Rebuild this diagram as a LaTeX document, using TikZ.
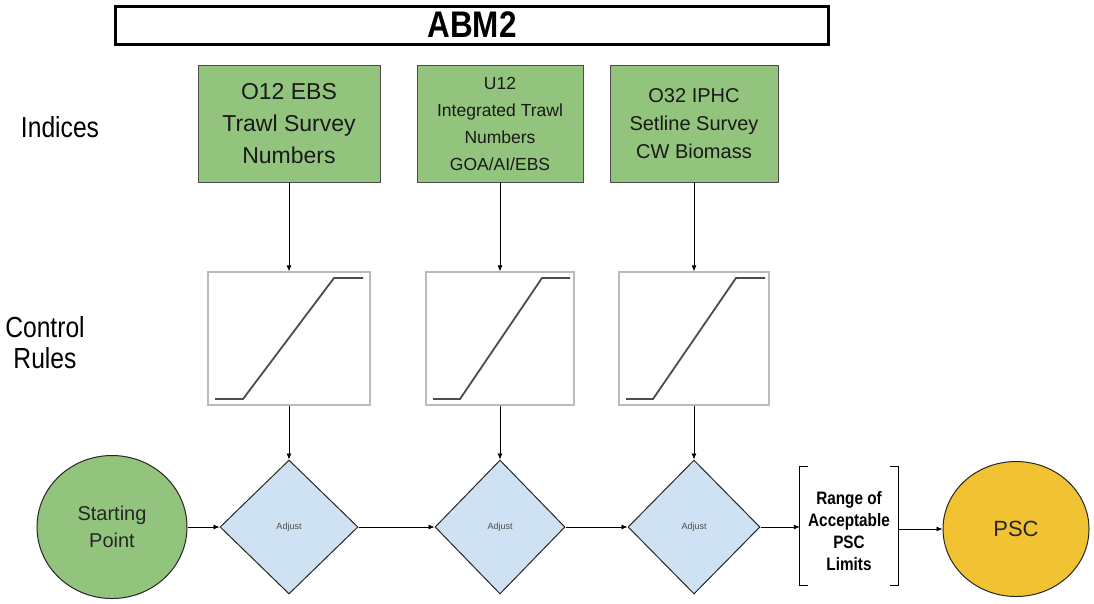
\documentclass[tikz,border=0pt]{standalone}
\usepackage{fontspec}
\setmainfont{Liberation Sans}
\newfontfamily\narrowfont[FakeStretch=0.85]{Liberation Sans}
\usetikzlibrary{arrows.meta,shapes.geometric}
\definecolor{boxgreen}{HTML}{93C47D}
\definecolor{adjblue}{HTML}{CFE2F3}
\definecolor{pscyellow}{HTML}{F1C232}
\definecolor{rulegray}{HTML}{BBBBBB}
\tikzset{
  idxbox/.style={draw=black!70, line width=0.8pt, fill=boxgreen, minimum height=117pt, align=center, inner sep=2pt, text=black!90},
  rulebox/.style={draw=rulegray, line width=1.2pt, minimum height=133pt},
  adjust/.style={diamond, draw=black!85, line width=1pt, fill=adjblue, minimum width=138pt, minimum height=134pt, inner sep=0pt, font=\fontsize{9}{10}\selectfont, text=black!70},
  arr/.style={-{Latex[length=6pt,width=5pt]}, line width=0.8pt},
  curve/.style={line width=1.8pt, black!70},
  side/.style={font=\narrowfont\fontsize{29}{31}\selectfont, align=center}
}
\begin{document}
\begin{tikzpicture}[x=1pt,y=-1pt]
\useasboundingbox (0,0) rectangle (1094,603);
% title
\node[draw, line width=3pt, minimum width=713pt, minimum height=38pt, font=\narrowfont\bfseries\fontsize{37}{38}\selectfont] (title) at (472,25) {ABM2};
% side labels
\node[side] (lind) at (60,127) {Indices};
\node[side] (lctl) at (45,343) {Control\\Rules};
% index boxes
\node[idxbox, minimum width=182pt, font=\fontsize{23}{32}\selectfont] (i1) at (289,123.5) {O12 EBS\\Trawl Survey\\Numbers};
\node[idxbox, minimum width=166pt, font=\fontsize{17.5}{27}\selectfont] (i2) at (500,123.5) {U12\\Integrated Trawl\\Numbers\\GOA/AI/EBS};
\node[idxbox, minimum width=168pt, font=\fontsize{20}{28}\selectfont] (i3) at (694,123.5) {O32 IPHC\\Setline Survey\\CW Biomass};
% rule boxes
\node[rulebox, minimum width=162pt] (r1) at (289,338.5) {};
\node[rulebox, minimum width=148pt] (r2) at (500,338.5) {};
\node[rulebox, minimum width=150pt] (r3) at (694,338.5) {};
\draw[curve] (215,399) -- (243,399) -- (334,278) -- (363,278);
\draw[curve] (433,399) -- (460,399) -- (542,278) -- (570,278);
\draw[curve] (626,399) -- (653,399) -- (736,278) -- (765,278);
% diamonds
\node[adjust] (d1) at (289,527) {Adjust};
\node[adjust, minimum width=130pt] (d2) at (500,527) {Adjust};
\node[adjust, minimum width=132pt] (d3) at (694,527) {Adjust};
% circles
\node[ellipse, draw=black!85, line width=1pt, fill=boxgreen, minimum width=150pt, minimum height=143pt, align=center, font=\fontsize{20}{27}\selectfont, text=black!85] (start) at (112,527) {Starting\\Point};
\node[ellipse, draw=black!85, line width=1pt, fill=pscyellow, minimum width=146pt, minimum height=135pt, font=\fontsize{22}{26}\selectfont, text=black!85] (psc) at (1016,529) {PSC};
% range bracket
\node[minimum width=98pt, minimum height=118pt, align=center, font=\narrowfont\bfseries\fontsize{18}{22}\selectfont] (range) at (849,526) {};
\node[align=center, font=\narrowfont\bfseries\fontsize{18}{22}\selectfont] (rangetext) at (849,531) {Range of\\Acceptable\\PSC\\Limits};
\draw[line width=1pt] ([xshift=8pt]range.north west) -- (range.north west) -- (range.south west) -- ([xshift=8pt]range.south west);
\draw[line width=1pt] ([xshift=-8pt]range.north east) -- (range.north east) -- (range.south east) -- ([xshift=-8pt]range.south east);
% arrows
\draw[arr] (i1.south) -- (r1.north);
\draw[arr] (i2.south) -- (r2.north);
\draw[arr] (i3.south) -- (r3.north);
\draw[arr] (r1.south) -- (d1.north);
\draw[arr] (r2.south) -- (d2.north);
\draw[arr] (r3.south) -- (d3.north);
\draw[arr] (start.east) -- (d1.west);
\draw[arr] (d1.east) -- (d2.west);
\draw[arr] (d2.east) -- (d3.west);
\draw[arr] (d3.east) -- (range.west |- d3.east);
\draw[arr] (range.east |- psc.west) -- (psc.west);
\end{tikzpicture}
\end{document}
